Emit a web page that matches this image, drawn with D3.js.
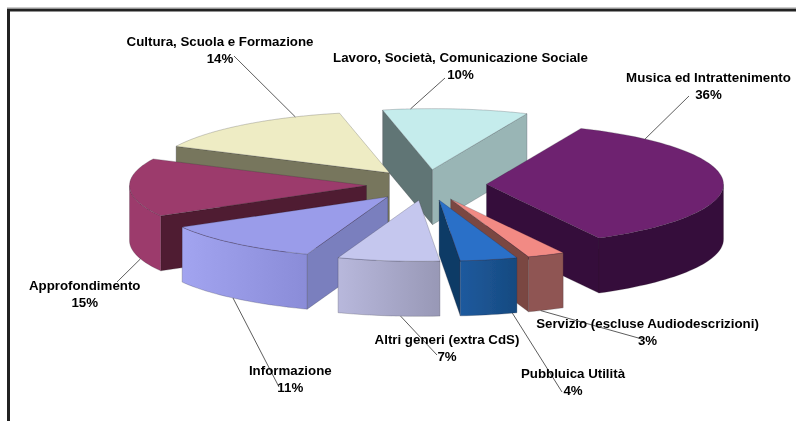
<!DOCTYPE html>
<html><head><meta charset="utf-8">
<script src="https://cdn.jsdelivr.net/npm/d3@7/dist/d3.min.js"></script>
<style>html,body{margin:0;padding:0;background:#fff}svg{display:block}</style>
</head><body><svg id="c" width="796" height="421"></svg>
<script>
const categories=["Musica ed Intrattenimento","Servizio (escluse Audiodescrizioni)","Pubbluica Utilità","Altri generi (extra CdS)","Informazione","Approfondimento","Cultura, Scuola e Formazione","Lavoro, Società, Comunicazione Sociale"];
const values=[35.6,2.55,3.9,6.95,11.2,15.45,14.45,9.9];
const topColors=["#6e2270","#f28a84","#2a70c8","#c5c7ee","#9a9cea","#9c3b6c","#eeecc4","#c5ecec"];
const sideColors=["#36093a","#7a4642","#113a66","#8f8fb0","#7a7fbe","#4f1a30","#77765d","#607474"];
const endWallColors=["#36093a","#7a4642","#113a66","#8f8fb0","#7a7fbe","#4f1a30","#77765d","#99b5b5"];
const rimFrom=["#36093a","#8f5552","#1d5a9e","#b8b8dc","#a2a4f0","#9c3b6c","#77765d","#99b5b5"];
const rimTo=["#36093a","#8f5552","#174a80","#9898b6","#8a8cd8","#9c3b6c","#77765d","#99b5b5"];
// painter's order, back to front
const drawOrder=[7,6,5,0,4,3,1,2];
// leader anchor on the rim (degrees clockwise from top), label placement
const leaderAngle=[42,157.7,162,184.4,220.8,252.5,336.6,354.7];
const labelLayout=[
 {x:708.5,y:82,ex:689,ey:96},
 {x:647.5,y:328,ex:642,ey:339},
 {x:573,y:378,ex:562,ey:392},
 {x:447,y:344,ex:437,ey:355},
 {x:290.3,y:375,ex:279,ey:387},
 {x:84.7,y:290,ex:117,ey:282},
 {x:220,y:46,ex:234,ey:56},
 {x:460.5,y:62,ex:445,ey:78}
];

const cx=426.5,cy=185,rx=237,ry=61,depth=55,explode=0.2533;
const startDeg=23.5;
const sx=d3.scaleLinear().domain([-1,1]).range([cx-rx,cx+rx]);
const sy=d3.scaleLinear().domain([-1,1]).range([cy-ry,cy+ry]);
const svg=d3.select("#c");
const defs=svg.append("defs");
defs.append("filter").attr("id","soft").append("feGaussianBlur").attr("stdDeviation",0.3);

svg.append("rect").attr("width",796).attr("height",421).attr("fill","#fff");
// frame
svg.append("path").attr("d","M8.5,421V10H796").attr("fill","none").attr("stroke","#222").attr("stroke-width",3);
svg.append("path").attr("d","M7,8H796").attr("fill","none").attr("stroke","#999").attr("stroke-width",1);

const pie=d3.pie().sort(null).startAngle(startDeg*Math.PI/180).endAngle(startDeg*Math.PI/180+2*Math.PI);
const arcs=pie(values);
const line=d3.line();
function apex(mid){return [sx(explode*Math.sin(mid)),sy(-explode*Math.cos(mid))];}
function rim(o,a,dz){return [o[0]+rx*Math.sin(a),o[1]-ry*Math.cos(a)+(dz||0)];}
function arcPts(o,a0,a1,dz){
  const n=Math.max(2,Math.ceil(Math.abs(a1-a0)/0.03));
  return d3.range(n+1).map(i=>rim(o,a0+(a1-a0)*i/n,dz));
}
const chart=svg.append("g").attr("filter","url(#soft)");
const edge="rgba(40,40,50,0.45)";
const front0=Math.PI/2,front1=3*Math.PI/2;

drawOrder.forEach(i=>{
  const d=arcs[i],mid=(d.startAngle+d.endAngle)/2,o=apex(mid);
  const g=chart.append("g");
  const wall=(a,col)=>{
    const r=rim(o,a);
    g.append("path").attr("d",line([o,r,[r[0],r[1]+depth],[o[0],o[1]+depth]])+"Z")
     .attr("fill",col).attr("stroke",edge).attr("stroke-width",.5);
  };
  if(Math.sin(d.startAngle)<0) wall(d.startAngle,sideColors[i]);
  if(Math.sin(d.endAngle)>0) wall(d.endAngle,endWallColors[i]);
  const a0=Math.max(d.startAngle,front0),a1=Math.min(d.endAngle,front1);
  if(a1>a0){
    const top=arcPts(o,a0,a1,0),bot=arcPts(o,a0,a1,depth).reverse();
    const id="rim"+i;
    const xs=top.map(p=>p[0]);
    const lg=defs.append("linearGradient").attr("id",id).attr("gradientUnits","userSpaceOnUse")
      .attr("x1",d3.min(xs)).attr("x2",d3.max(xs)).attr("y1",0).attr("y2",0);
    lg.append("stop").attr("offset",0).attr("stop-color",rimFrom[i]);
    lg.append("stop").attr("offset",1).attr("stop-color",rimTo[i]);
    g.append("path").attr("d",line(top.concat(bot))+"Z").attr("fill",`url(#${id})`).attr("stroke",edge).attr("stroke-width",.5);
  }
  const face=[o].concat(arcPts(o,d.startAngle,d.endAngle,0));
  g.append("path").attr("d",line(face)+"Z").attr("fill",topColors[i]).attr("stroke",edge).attr("stroke-width",.5);
});

// leaders and labels
const over=svg.append("g");
categories.forEach((c,i)=>{
  const d=arcs[i],mid=(d.startAngle+d.endAngle)/2,o=apex(mid),L=labelLayout[i];
  const a=leaderAngle[i]*Math.PI/180;
  const onFront=Math.cos(a)<0;
  const s=rim(o,a,onFront?depth:0);
  over.append("line").attr("x1",s[0]).attr("y1",s[1]).attr("x2",L.ex).attr("y2",L.ey).attr("stroke","#333").attr("stroke-width",.8);
});
const fmt=v=>d3.format(".0f")(v)+"%";
const texts=svg.append("g").attr("filter","url(#soft)").attr("font-family","'Liberation Sans',Arial,sans-serif").attr("font-weight","bold").attr("font-size",13.3).attr("fill","#000").attr("text-anchor","middle");
categories.forEach((c,i)=>{
  const L=labelLayout[i];
  texts.append("text").attr("x",L.x).attr("y",L.y).text(c);
  texts.append("text").attr("x",L.x).attr("y",L.y+16.6).text(fmt(values[i]));
});
</script></body></html>
